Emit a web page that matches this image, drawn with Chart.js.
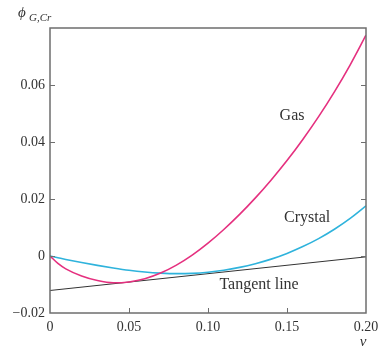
<!DOCTYPE html>
<html>
<head>
<meta charset="utf-8">
<script src="https://cdn.jsdelivr.net/npm/chart.js@4"></script>
<style>
  body { margin: 0; background: #fff; }
  #wrap { width: 385px; height: 354px; }
</style>
</head>
<body>
<div id="wrap"><canvas id="phiChart"></canvas></div>
<script>
// values
const nu = [0, 0.005, 0.01, 0.02, 0.03, 0.04, 0.05, 0.06, 0.07, 0.08, 0.09, 0.10,
            0.11, 0.12, 0.13, 0.14, 0.15, 0.16, 0.17, 0.18, 0.19, 0.20];
const gasPhi = [0, -0.0026, -0.0045, -0.0070, -0.0086, -0.0094, -0.0091, -0.0080, -0.0060, -0.0032, 0.0003, 0.0045,
                0.0093, 0.0146, 0.0204, 0.0267, 0.0335, 0.0409, 0.0489, 0.0576, 0.0671, 0.0775];
const crystalPhi = [0, -0.0006, -0.0012, -0.0023, -0.0033, -0.0042, -0.0050, -0.0056, -0.0060, -0.0062, -0.0061, -0.0057,
                    -0.0050, -0.0040, -0.0027, -0.0011, 0.0009, 0.0033, 0.0061, 0.0094, 0.0132, 0.0176];
const tangentNu = [0, 0.20];
const tangentPhi = [-0.0121, -0.0003];

const xTicks = [0, 0.05, 0.10, 0.15, 0.20];
const yTicks = [-0.02, 0, 0.02, 0.04, 0.06, 0.08];

const serif = '"Liberation Serif", "DejaVu Serif", serif';
const gasColor = '#e5307f';
const crystalColor = '#2fb3dc';
const axisColor = '#6e6e6e';

function pts(xs, ys) {
  return xs.map((x, i) => ({ x: x, y: ys[i] }));
}

// box, inward ticks and the text labels
const framePlugin = {
  id: 'frame',
  afterDraw(chart) {
    const ctx = chart.ctx;
    const a = chart.chartArea;
    const xs = chart.scales.x;
    const ys = chart.scales.y;
    ctx.save();
    ctx.strokeStyle = axisColor;
    ctx.lineWidth = 1.5;
    ctx.strokeRect(a.left, a.top, a.right - a.left, a.bottom - a.top);

    ctx.lineWidth = 1;
    ctx.beginPath();
    xTicks.slice(1, -1).forEach(v => {
      const px = Math.round(xs.getPixelForValue(v)) + 0.5;
      ctx.moveTo(px, a.bottom);
      ctx.lineTo(px, a.bottom - 5);
    });
    yTicks.slice(1, -1).forEach(v => {
      const py = Math.round(ys.getPixelForValue(v)) + 0.5;
      ctx.moveTo(a.left, py);
      ctx.lineTo(a.left + 5, py);
      ctx.moveTo(a.right, py);
      ctx.lineTo(a.right - 5, py);
    });
    ctx.stroke();

    ctx.fillStyle = '#333';
    ctx.textAlign = 'center';
    ctx.textBaseline = 'middle';
    ctx.font = '16px ' + serif;
    ctx.fillText('Gas', xs.getPixelForValue(0.1532), ys.getPixelForValue(0.0493));
    ctx.fillText('Crystal', xs.getPixelForValue(0.1627), ys.getPixelForValue(0.0133));
    ctx.fillText('Tangent line', xs.getPixelForValue(0.1323), ys.getPixelForValue(-0.0100));

    ctx.font = 'italic 15px ' + serif;
    ctx.fillText('ν', 363, 342);
    ctx.textAlign = 'left';
    ctx.fillText('\u03D5', 18, 13);
    ctx.font = 'italic 11px ' + serif;
    ctx.fillText('G,Cr', 29, 18);
    ctx.restore();
  }
};

new Chart(document.getElementById('phiChart'), {
  type: 'line',
  data: {
    datasets: [
      {
        label: 'Gas',
        data: pts(nu, gasPhi),
        borderColor: gasColor,
        borderWidth: 1.6,
        pointRadius: 0,
        cubicInterpolationMode: 'monotone'
      },
      {
        label: 'Crystal',
        data: pts(nu, crystalPhi),
        borderColor: crystalColor,
        borderWidth: 1.6,
        pointRadius: 0,
        cubicInterpolationMode: 'monotone'
      },
      {
        label: 'Tangent line',
        data: pts(tangentNu, tangentPhi),
        borderColor: '#333',
        borderWidth: 1,
        pointRadius: 0
      }
    ]
  },
  options: {
    responsive: true,
    maintainAspectRatio: false,
    animation: false,
    layout: { padding: { left: 0, top: 28, right: 19, bottom: 0 } },
    plugins: {
      legend: { display: false },
      tooltip: { enabled: false }
    },
    scales: {
      x: {
        type: 'linear',
        min: 0,
        max: 0.2,
        afterBuildTicks: s => { s.ticks = xTicks.map(v => ({ value: v })); },
        afterFit: s => { s.height = 41; },
        grid: { display: false, drawTicks: false },
        border: { display: false },
        ticks: {
          padding: 6,
          color: '#333',
          font: { family: serif, size: 14 },
          callback: v => (v === 0 ? '0' : v.toFixed(2))
        }
      },
      y: {
        type: 'linear',
        min: -0.02,
        max: 0.08,
        afterBuildTicks: s => { s.ticks = yTicks.map(v => ({ value: v })); },
        afterFit: s => { s.width = 50; },
        grid: { display: false, drawTicks: false },
        border: { display: false },
        ticks: {
          padding: 5,
          color: '#333',
          font: { family: serif, size: 14 },
          callback: v => {
            if (Math.abs(v - 0.08) < 1e-9) return '';
            if (Math.abs(v) < 1e-9) return '0';
            return v < 0 ? '\u2212' + Math.abs(v).toFixed(2) : v.toFixed(2);
          }
        }
      }
    }
  },
  plugins: [framePlugin]
});
</script>
</body>
</html>
